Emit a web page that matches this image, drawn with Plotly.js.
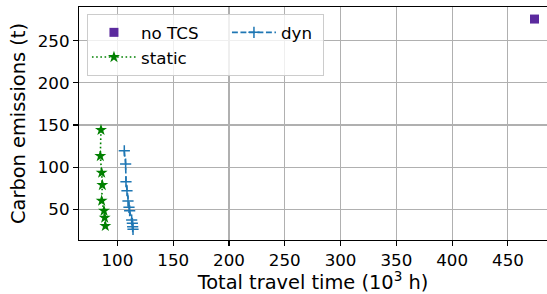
<!DOCTYPE html>
<html>
<head>
<meta charset="utf-8">
<script src="https://cdn.plot.ly/plotly-3.0.1.min.js"></script>
<style>html,body{margin:0;padding:0;background:#fff;}#chart{width:547px;height:294px;}</style>
</head>
<body>
<div id="chart"></div>
<script>
// Data
const noTcsX = [473.8];
const noTcsY = [275.7];

const staticX = [85.3, 84.7, 85.9, 86.5, 85.9, 88.0, 88.6, 89.2];
const staticY = [144.1, 113.2, 93.4, 78.8, 60.2, 48.3, 40.0, 30.2];

const dynX = [106.2, 107.4, 107.7, 108.6, 109.5, 110.4, 111.0, 112.8, 113.4, 113.7, 114.0];
const dynY = [119.5, 103.7, 82.7, 72.0, 59.8, 52.4, 48.3, 37.3, 33.4, 29.4, 26.3];

const xTicks = [100, 150, 200, 250, 300, 350, 400, 450];
const yTicks = [50, 100, 150, 200, 250];

const FONT = "DejaVu Sans";

const traces = [
  {
    x: noTcsX, y: noTcsY, name: "no TCS", type: "scatter", mode: "markers",
    marker: {symbol: "square", size: 9, color: "#5b2a9e"},
    legendgroup: "a", legendwidth: 81
  },
  {
    x: staticX, y: staticY, name: "static", type: "scatter", mode: "lines+markers",
    line: {color: "#008000", width: 1.6, dash: "1.6px,2.6px"},
    marker: {symbol: "star", size: 9, color: "#008000"},
    legendgroup: "a", legendwidth: 81
  },
  {
    x: dynX, y: dynY, name: "dyn", type: "scatter", mode: "lines+markers",
    line: {color: "#1f77b4", width: 1.6, dash: "5.9px,2.6px"},
    marker: {symbol: "cross-thin", size: 8, color: "#1f77b4", line: {color: "#1f77b4", width: 1.5}},
    legendgroup: "b", legendwidth: 37
  }
];

const layout = {
  width: 547, height: 294,
  margin: {l: 79, r: 0, t: 7, b: 54, pad: 0},
  paper_bgcolor: "#ffffff", plot_bgcolor: "#ffffff",
  font: {family: FONT, size: 16.7, color: "#000000"},
  showlegend: true,
  legend: {
    x: 0.017, y: 0.97, xanchor: "left", yanchor: "top",
    orientation: "h", traceorder: "grouped", itemwidth: 44,
    bgcolor: "rgba(255,255,255,0.8)", bordercolor: "#cccccc", borderwidth: 1,
    font: {family: FONT, size: 16.7, color: "#000000"}
  },
  xaxis: {
    range: [65.6, 485], tickvals: xTicks, ticktext: xTicks.map(String),
    ticks: "outside", ticklen: 5, tickwidth: 1.1, tickcolor: "#000",
    showline: true, linecolor: "#000", linewidth: 1.1, mirror: true,
    showgrid: true, gridcolor: "#b0b0b0", gridwidth: 1.1, zeroline: false,
    tickfont: {family: FONT, size: 16.7, color: "#000"},
    title: {text: "Total travel time (10<sup>3</sup> h)", font: {family: FONT, size: 19.4, color: "#000"}, standoff: 8},
    automargin: false
  },
  yaxis: {
    range: [13.6, 290], tickvals: yTicks, ticktext: yTicks.map(String),
    ticks: "outside", ticklen: 5, tickwidth: 1.1, tickcolor: "#000",
    showline: true, linecolor: "#000", linewidth: 1.1, mirror: false,
    showgrid: true, gridcolor: "#b0b0b0", gridwidth: 1.1, zeroline: false,
    tickfont: {family: FONT, size: 16.7, color: "#000"},
    title: {text: "Carbon emissions (t)", font: {family: FONT, size: 19.4, color: "#000"}, standoff: 6},
    automargin: false
  }
};

Plotly.newPlot("chart", traces, layout, {staticPlot: true, displayModeBar: false});
</script>
</body>
</html>
